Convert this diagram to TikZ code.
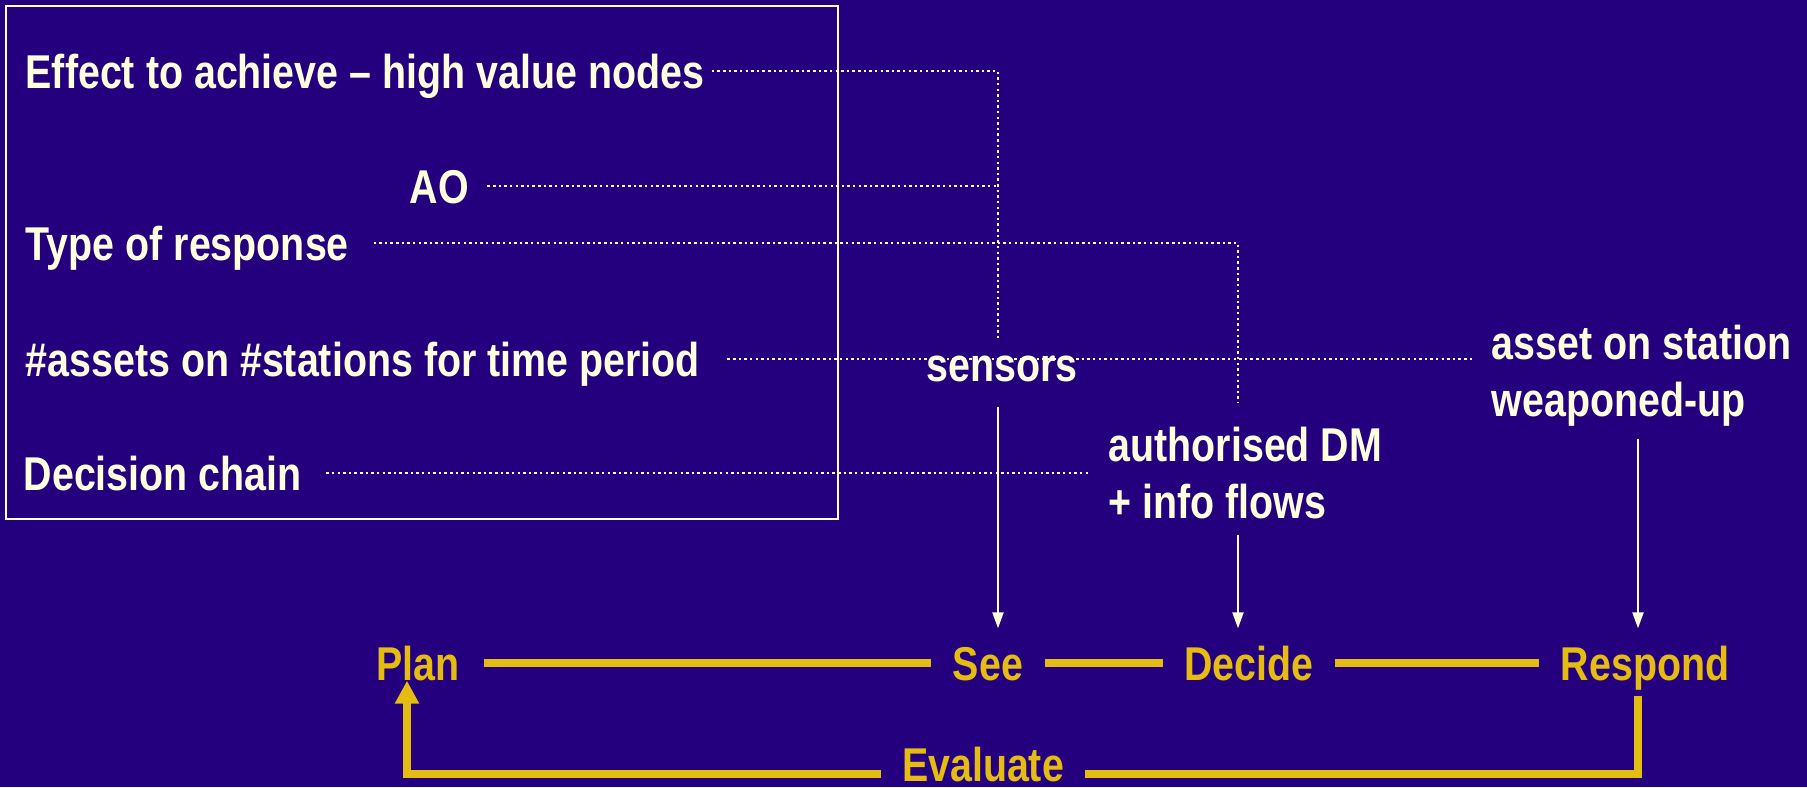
\documentclass[tikz,border=0pt]{standalone}
\usepackage{fontspec}
\setmainfont{Liberation Sans}[FakeStretch=0.83]
\usetikzlibrary{arrows.meta}
\definecolor{slidebg}{RGB}{36,0,126}
\definecolor{cream}{RGB}{255,255,224}
\definecolor{gold}{RGB}{228,188,18}
\tikzset{
  lbl/.style={text=cream, font=\fontsize{13.5pt}{16pt}\selectfont\bfseries, inner sep=0pt, text height=3.4mm, text depth=0pt},
  stage/.style={lbl, text=gold},
  dotline/.style={cream, line width=0.6pt, dash pattern=on 0.7pt off 0.9pt},
  feed/.style={cream, line width=0.6pt, -{Triangle[length=1.6mm, width=1.1mm]}},
  cycline/.style={gold, line width=0.8mm}
}

\begin{document}
\begin{tikzpicture}
\fill[slidebg] (0,0) rectangle (18.07,-7.87);
\useasboundingbox (0,0) rectangle (18.07,-7.87);
\draw[cream, line width=0.7pt] (0.06,-0.06) rectangle (8.38,-5.19);

\node[lbl, anchor=base west] (effect) at (0.25,-0.88) {Effect to achieve – high value nodes};
\node[lbl, anchor=base west] (ao) at (4.09,-2.03) {AO};
\node[lbl, anchor=base west] (type) at (0.25,-2.60) {Type of response};
\node[lbl, anchor=base west] (assets) at (0.25,-3.76) {\#assets on \#stations for time period};
\node[lbl, anchor=base west] (chain) at (0.23,-4.90) {Decision chain};
\node[lbl, anchor=base] (sensors) at (10.02,-3.81) {sensors};
\node[lbl, anchor=base west] (dm1) at (11.08,-4.61) {authorised DM};
\node[lbl, anchor=base west] (dm2) at ([yshift=-5.7mm]dm1.base west) {+ info flows};
\node[lbl, anchor=base west] (asset1) at (14.91,-3.59) {asset on station};
\node[lbl, anchor=base west] (asset2) at ([yshift=-5.7mm]asset1.base west) {weaponed-up};

\node[stage, anchor=base] (plan) at (4.18,-6.80) {Plan};
\node[stage, anchor=base] (see) at (9.88,-6.80) {See};
\node[stage, anchor=base] (decide) at (12.49,-6.80) {Decide};
\node[stage, anchor=base] (respond) at (16.45,-6.80) {Respond};
\node[stage, anchor=base] (evaluate) at (9.83,-7.81) {Evaluate};

\coordinate (colS) at (9.98,0);
\coordinate (colD) at (12.38,0);
\coordinate (colR) at (16.38,0);
\coordinate (colP) at (4.07,0);
\coordinate (bot) at (0,-7.74);

\draw[dotline] ([xshift=0.7mm]effect.east) -| ([yshift=0.8mm]sensors.north -| colS);
\draw[dotline] ([xshift=1.8mm]ao.east) -- (ao.east -| colS);
\draw[dotline] ([xshift=2.4mm]type.east) -| ([yshift=2.4mm]dm1.north -| colD);
\draw[dotline] ([xshift=2.7mm]assets.east) -- ([xshift=-1.6mm]assets.east -| asset1.west);
\draw[dotline] ([xshift=2.4mm]chain.east) -- ([xshift=-1.7mm]chain.east -| dm1.west);

\draw[feed] ([yshift=-2.5mm]sensors.south -| colS) -- ([yshift=1.7mm]see.north -| colS);
\draw[feed] ([yshift=-1.6mm]dm2.south -| colD) -- ([yshift=1.7mm]decide.north -| colD);
\draw[feed] ([yshift=-2.2mm]asset2.south -| colR) -- ([yshift=1.7mm]respond.north -| colR);

\draw[cycline] ([xshift=2.4mm]plan.east) -- ([xshift=-2.1mm]see.west);
\draw[cycline] ([xshift=2.1mm]see.east) -- ([xshift=-2.1mm]decide.west);
\draw[cycline] ([xshift=2.1mm]decide.east) -- ([xshift=-2.1mm]respond.west);
\draw[cycline] ([yshift=-1.5mm]respond.south -| colR) |- ([xshift=2mm]evaluate.east |- bot);
\draw[cycline, -{Triangle[length=2.3mm, width=2.3mm]}] ([xshift=-2mm]evaluate.west |- bot) -| (plan.south -| colP);
\end{tikzpicture}
\end{document}
